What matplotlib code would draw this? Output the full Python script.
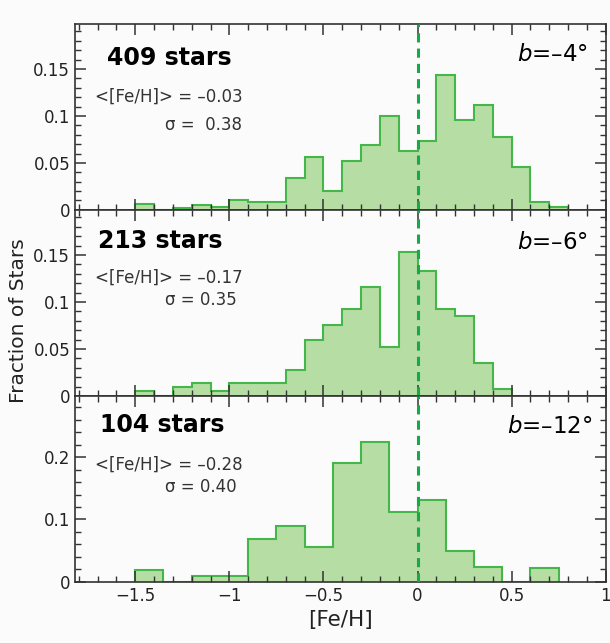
import matplotlib
matplotlib.use("Agg")
import matplotlib.pyplot as plt
from matplotlib.ticker import MultipleLocator, FuncFormatter

# bin edges
edges_a = [-1.5, -1.4, -1.3, -1.2, -1.1, -1.0, -0.9, -0.8, -0.7, -0.6, -0.5, -0.4,
           -0.3, -0.2, -0.1, 0.0, 0.1, 0.2, 0.3, 0.4, 0.5, 0.6, 0.7, 0.8]
edges_b = [-1.5, -1.4, -1.3, -1.2, -1.1, -1.0, -0.9, -0.8, -0.7, -0.6, -0.5, -0.4,
           -0.3, -0.2, -0.1, 0.0, 0.1, 0.2, 0.3, 0.4, 0.5]
edges_c = [-1.5, -1.35, -1.2, -1.05, -0.9, -0.75, -0.6, -0.45, -0.3, -0.15, 0.0,
           0.15, 0.3, 0.45, 0.6, 0.75]

# fraction of stars per bin
frac_4 = [0.006, 0.0, 0.0025, 0.005, 0.003, 0.0106, 0.008, 0.008, 0.034, 0.056, 0.020,
          0.052, 0.069, 0.100, 0.063, 0.073, 0.144, 0.096, 0.112, 0.078, 0.046, 0.0085, 0.0035]
frac_6 = [0.0047, 0.0, 0.0094, 0.014, 0.0047, 0.014, 0.014, 0.014, 0.028, 0.059, 0.075,
          0.092, 0.116, 0.052, 0.153, 0.133, 0.092, 0.085, 0.035, 0.007]
frac_12 = [0.019, 0.0, 0.0096, 0.0096, 0.069, 0.089, 0.056, 0.19, 0.224, 0.112, 0.132,
           0.050, 0.024, 0.0, 0.022]

n_stars = ["409 stars", "213 stars", "104 stars"]
means = ["<[Fe/H]> = \u20130.03", "<[Fe/H]> = \u20130.17", "<[Fe/H]> = \u20130.28"]
sigmas = ["\u03c3 =  0.38", "\u03c3 = 0.35", "\u03c3 = 0.40"]
lat_labels = ["$\\it{b}$=\u20134\u00b0", "$\\it{b}$=\u20136\u00b0", "$\\it{b}$=\u201312\u00b0"]

fill_c = "#b6dea4"
edge_c = "#45b649"
dash_c = "#17a84a"
ink = "#222222"

fig = plt.figure(figsize=(6.1, 6.43), dpi=100)
fig.patch.set_facecolor("#fbfbfb")

left, width, h, bottom = 0.123, 0.870, 0.2893, 0.095
panels = [(edges_a, frac_4, 0.198, 0.05, 0.01),
          (edges_b, frac_6, 0.198, 0.05, 0.01),
          (edges_c, frac_12, 0.298, 0.1, 0.02)]
txt_pos = [(0.06, 0.816, 0.608, 0.456, 0.966, 0.836),
           (0.044, 0.83, 0.636, 0.514, 0.966, 0.822),
           (0.047, 0.844, 0.629, 0.512, 0.975, 0.835)]


def fmt(v, pos):
    s = "%g" % round(v, 3)
    return s.replace("-", "\u2212")


axes = []
for i, (edges, vals, ytop, ymaj, ymin) in enumerate(panels):
    ax = fig.add_axes([left, bottom + (2 - i) * h, width, h])
    ax.set_facecolor("#fbfbfb")
    ax.stairs(vals, edges, fill=True, facecolor=fill_c, edgecolor=edge_c, linewidth=1.5)
    ax.axvline(0, color=dash_c, ls=(0, (3, 2)), lw=2.2, zorder=3)
    ax.set_xlim(-1.82, 1.0)
    ax.set_ylim(0, ytop)
    ax.xaxis.set_major_locator(MultipleLocator(0.5))
    ax.xaxis.set_minor_locator(MultipleLocator(0.1))
    ax.yaxis.set_major_locator(MultipleLocator(ymaj))
    ax.yaxis.set_minor_locator(MultipleLocator(ymin))
    ax.xaxis.set_major_formatter(FuncFormatter(fmt))
    ax.yaxis.set_major_formatter(FuncFormatter(fmt))
    ax.tick_params(which="both", direction="in", top=True, right=True,
                   color="#333333", labelsize=12, labelcolor=ink)
    ax.tick_params(which="major", length=8, width=1.1)
    ax.tick_params(which="minor", length=4, width=1.0)
    for sp in ax.spines.values():
        sp.set_color("#333333")
        sp.set_linewidth(1.2)
    if i < 2:
        ax.tick_params(labelbottom=False)

    xs, ys, ym, yg, xb, yb = txt_pos[i]
    ax.text(xs, ys, n_stars[i], transform=ax.transAxes, fontsize=17,
            fontweight="bold", color="black", va="center", ha="left")
    ax.text(0.038, ym, means[i], transform=ax.transAxes, fontsize=12,
            color="#333333", va="center", ha="left")
    ax.text(0.169, yg, sigmas[i], transform=ax.transAxes, fontsize=12,
            color="#333333", va="center", ha="left")
    ax.text(xb, yb, lat_labels[i], transform=ax.transAxes, fontsize=16.5,
            color="black", va="center", ha="right")
    axes.append(ax)

axes[2].set_xlabel("[Fe/H]", fontsize=15.5, color=ink, labelpad=4)
fig.text(0.030, 0.502, "Fraction of Stars", rotation=90, fontsize=14.5,
         color=ink, va="center", ha="center")

fig.savefig("out.png", dpi=100, facecolor=fig.get_facecolor())
